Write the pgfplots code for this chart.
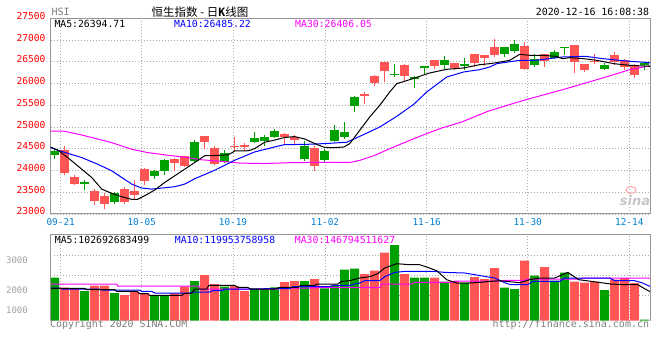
\documentclass[border=0pt]{standalone}
\usepackage{pgfplots}
\pgfplotsset{compat=1.18}
\usepackage{pgfplotstable}
\usepackage{fontspec}
\setmainfont{DejaVu Sans}
\newfontfamily\mono{DejaVu Sans Mono}
\newfontfamily\cjk{Noto Sans CJK SC}
\definecolor{cr}{RGB}{255,85,85}
\definecolor{cg}{RGB}{0,160,0}
\definecolor{gridc}{RGB}{170,170,170}
\definecolor{axc}{RGB}{150,150,150}
\definecolor{tickblue}{RGB}{0,128,210}
\definecolor{mag}{RGB}{255,0,255}
\definecolor{maten}{RGB}{0,0,255}
\definecolor{txtgray}{RGB}{125,125,125}
\definecolor{volgray}{RGB}{160,160,160}
\newcommand{\fs}[1]{\fontsize{#1}{#1}\selectfont}

% candles: x lo bodybottom bodytop hi
\pgfplotstableread{
x lo bb bt hi
1 23905 23935 24475 24555
2 23660 23700 23845 23905
4 23200 23300 23540 23585
5 23105 23225 23425 23475
7 23240 23275 23585 23610
8 23350 23440 23540 23790
9 23660 23760 24045 24060
12 23990 24180 24275 24280
13 24090 24105 24340 24345
15 24490 24645 24800 24805
16 24120 24145 24522 24572
18 24440 24530 24575 24782
19 24440 24545 24585 24630
23 24600 24760 24850 24870
24 24590 24698 24775 24820
26 23990 24095 24523 24560
31 25522 25712 25759 25805
32 25936 26015 26166 26204
33 26035 26295 26488 26495
35 26051 26172 26419 26457
38 26335 26410 26534 26540
40 26319 26360 26465 26470
42 26381 26480 26672 26680
43 26404 26588 26649 26655
44 26611 26660 26841 27033
47 26304 26335 26856 26956
49 26381 26525 26672 26680
52 26243 26500 26879 26885
53 26266 26300 26457 26460
54 26442 26495 26520 26672
56 26419 26500 26649 26726
57 26304 26380 26549 26570
58 26135 26207 26419 26450
}\redtab
\pgfplotstableread{
x lo bb bt hi
0 24275 24360 24455 24500
3 23545 23680 23745 23790
6 23220 23270 23475 23515
10 23812 23865 23980 24015
11 23890 23980 24245 24260
14 24210 24220 24650 24710
17 24205 24207 24395 24465
20 24660 24662 24748 24890
21 24565 24668 24775 24820
22 24755 24760 24912 24962
25 24225 24270 24575 24685
27 24195 24248 24460 24492
28 24665 24670 24935 25055
29 24731 24770 24895 25107
30 25345 25476 25700 25710
34 26150 26205 26230 26442
36 25905 26105 26160 26170
37 26204 26350 26395 26400
39 26327 26427 26550 26626
41 26319 26405 26458 26580
45 26611 26687 26830 26840
46 26703 26749 26898 27010
48 26381 26419 26570 26672
50 26572 26595 26735 26779
51 26649 26818 26845 26850
55 26304 26327 26420 26465
59 26319 26430 26470 26496
}\greentab
% volume (bar height on the chart's own scale)
\pgfplotstableread{
x v
1 33
2 32.5
4 35
5 35
7 25.7
8 29.3
9 27.7
12 27.3
13 34
15 45.7
16 36.7
18 34.7
19 29.7
23 38.7
24 39.7
26 41.7
31 46.7
32 50
33 68
35 46.7
38 43
40 39.5
42 43.7
43 41.5
44 52.7
47 60
49 53.7
52 39
53 38
54 39
56 41
57 42.7
58 37.7
}\volred
\pgfplotstableread{
x v
0 43
3 29.7
6 27.7
10 25
11 25.7
14 39.7
17 34
20 32.3
21 31
22 33.3
25 39.7
27 32.3
28 34.7
29 51
30 52
34 75.7
36 43
37 43
39 39
41 38.2
45 33
46 31.7
48 45
50 40
51 48
55 30.7
59 1
}\volgreen

\begin{document}
\begin{tikzpicture}
\path[use as bounding box] (0bp,0bp) rectangle (660bp,360bp);

% ---------- price panel ----------
\begin{axis}[
  at={(50.5bp,146bp)}, anchor=south west, scale only axis,
  width=599.5bp, height=195.7bp,
  xmin=-0.42, xmax=59.53, ymin=23000, ymax=27500,
  scaled y ticks=false,
  axis line style={draw=axc, line width=1bp},
  xtick={0.6,8.7,17.83,27.03,37.2,47.3,57.46},
  xticklabels={09-21,10-05,10-19,11-02,11-16,11-30,12-14},
  ytick={23000,23500,...,27500},
  yticklabels={23000,23500,24000,24500,25000,25500,26000,26500,27000,27500},
  xmajorgrids, ymajorgrids,
  major grid style={draw=gridc, line width=0.8bp, dash pattern=on 1bp off 2bp},
  major tick length=0pt,
  xticklabel style={font=\mono\fs{9.4bp}, text=tickblue, inner sep=0pt, yshift=-4.2bp},
  yticklabel style={font=\mono\fs{9.6bp}, text=red, inner sep=0pt, anchor=east, xshift=-4.8bp, yshift=2.5bp},
]
% wicks
\addplot[draw=none, mark=none, forget plot,
  error bars/.cd, y dir=both, y explicit, error mark=none,
  error bar style={draw=cr, line width=1bp, solid}]
  table[x=x, y=bb, y error plus expr=\thisrow{hi}-\thisrow{bb}, y error minus expr=\thisrow{bb}-\thisrow{lo}] {\redtab};
\addplot[draw=none, mark=none, forget plot,
  error bars/.cd, y dir=both, y explicit, error mark=none,
  error bar style={draw=cg, line width=1bp, solid}]
  table[x=x, y=bb, y error plus expr=\thisrow{hi}-\thisrow{bb}, y error minus expr=\thisrow{bb}-\thisrow{lo}] {\greentab};
% bodies
\addplot[draw=none, mark=none, forget plot,
  error bars/.cd, y dir=plus, y explicit, error mark=none,
  error bar style={draw=cr, line width=9bp, solid}]
  table[x=x, y=bb, y error plus expr=\thisrow{bt}-\thisrow{bb}] {\redtab};
\addplot[draw=none, mark=none, forget plot,
  error bars/.cd, y dir=plus, y explicit, error mark=none,
  error bar style={draw=cg, line width=9bp, solid}]
  table[x=x, y=bb, y error plus expr=\thisrow{bt}-\thisrow{bb}] {\greentab};
% MA30
\addplot[mag, line width=1bp, mark=none] coordinates {
(-0.42,24905)(0.9,24905)(2.7,24817)(5.7,24641)(7.7,24489)(9.3,24412)(11.3,24351)(13.3,24298)(14.5,24250)(16.5,24214)(18.5,24170)(21,24160)(23.5,24180)(27.5,24190)(29.5,24185)(30.5,24233)(32,24348)(33.5,24501)(35.5,24693)(37,24831)(38.7,24977)(40.7,25115)(43.3,25360)(46,25552)(47.5,25652)(50.8,25859)(54,26074)(56,26212)(57.5,26319)(59.53,26410)};
% MA10
\addplot[maten, line width=1bp, mark=none] coordinates {
(-0.42,24530)(0.3,24466)(1.3,24397)(2.7,24298)(4.3,24145)(5.7,23993)(6.7,23840)(7.7,23688)(8.7,23596)(9.7,23573)(10.7,23596)(12,23627)(13,23688)(14,23810)(16,24007)(18,24236)(20,24427)(22,24542)(23,24596)(25,24600)(27,24619)(29.2,24650)(30,24731)(32.5,25000)(34.2,25245)(35.9,25522)(37.2,25805)(39.2,26150)(40.9,26266)(42.5,26319)(43.5,26381)(44.2,26457)(46.5,26534)(48.1,26534)(50.8,26611)(53.1,26626)(54.8,26572)(57.5,26511)(59.53,26480)};
% MA5
\addplot[black, line width=1bp, mark=none] coordinates {
(-0.42,24540)(0.33,24466)(1.3,24298)(2.7,24031)(3.7,23840)(4.7,23573)(5.7,23474)(6.7,23398)(7.7,23337)(8.3,23337)(9,23421)(10,23550)(11,23726)(12,23878)(13,24031)(14,24184)(15,24340)(16,24345)(17.3,24360)(17.7,24404)(18,24450)(19.4,24455)(20,24504)(21,24650)(22,24700)(23,24760)(24,24780)(25,24725)(26,24620)(27,24530)(28,24527)(28.9,24540)(29.5,24617)(30.5,24923)(31.5,25230)(32.5,25498)(33.5,25805)(34.2,25997)(35.5,26089)(36.5,26166)(37.5,26243)(39.2,26327)(40.9,26358)(42.5,26434)(43.5,26457)(44.2,26480)(45.5,26534)(46.5,26672)(47.5,26649)(48.8,26649)(50.1,26626)(50.8,26572)(51.5,26595)(52.9,26572)(54.2,26534)(55.9,26457)(57.5,26419)(59.53,26396)};
\end{axis}

% ---------- volume panel ----------
\begin{axis}[
  at={(50.5bp,39.3bp)}, anchor=south west, scale only axis,
  width=599.5bp, height=86bp,
  xmin=-0.42, xmax=59.53, ymin=0, ymax=86,
  axis line style={draw=none}, clip=false,
  xtick={0.6,8.7,17.83,27.03,37.2,47.3,57.46}, xticklabels={},
  ytick={25.4,45.4,65.4}, yticklabels={},
  extra y ticks={10,30,60}, extra y tick labels={1000,2000,3000},
  extra y tick style={grid=none, yticklabel style={font=\mono\fs{9bp}, text=volgray, inner sep=0pt, anchor=east, xshift=-22.5bp}},
  xmajorgrids, ymajorgrids,
  major grid style={draw=gridc, line width=0.8bp, dash pattern=on 1bp off 2bp},
  major tick length=0pt,
]
\addplot[ybar, bar width=9bp, bar shift=0pt, fill=cr, draw=none, forget plot] table[x=x, y=v] {\volred};
\addplot[ybar, bar width=9bp, bar shift=0pt, fill=cg, draw=none, forget plot] table[x=x, y=v] {\volgreen};
\addplot[mag, line width=1bp, mark=none] coordinates {
(-0.42,36.7)(6.2,36.7)(6.3,34.7)(14.4,34.7)(14.5,31.7)(22.3,31.7)(22.5,32.7)(25.5,32.7)(26,33)(32.5,33)(32.7,36.7)(35.7,36.7)(36,38.3)(39.7,38.3)(40,39.7)(44.7,39.7)(45,40.3)(47,40.3)(47.3,41.7)(52.5,41.7)(53,42.7)(59.53,42.7)};
\addplot[maten, line width=1bp, mark=none] coordinates {
(-0.42,32.7)(0.5,32.7)(0.7,31.7)(4.5,31.7)(4.7,30.7)(8.5,30.7)(8.7,29.3)(9.7,29.3)(10,27.7)(13.5,27.7)(13.8,28.7)(15.5,28.7)(15.8,30)(16.7,30)(17,31.7)(20.5,31.7)(21,32)(23.5,32)(23.8,34)(27.5,34)(27.8,35.3)(29.5,35.3)(30,36.7)(30.5,37.7)(31,40)(32.5,40)(33,44)(34,48.3)(35,49.3)(38,49.3)(39,48.3)(41,47.7)(42,46)(43,44.3)(44,42.7)(45,38)(45.6,36)(47.3,36)(47.8,39.3)(50.5,39.3)(51,42.7)(55.5,42.7)(56,40)(58,40)(58.7,38)(59.53,34.3)};
\addplot[black, line width=1bp, mark=none] coordinates {
(-0.42,32.3)(3,32.3)(3.2,31)(6,31)(6.2,29.3)(8.2,29.3)(8.5,27)(9.3,27)(9.5,25.3)(12.7,25.3)(13,27.3)(13.7,27.3)(14,31.7)(15.2,31.7)(15.4,35.3)(18,35.3)(18.3,33.3)(19.3,33.3)(19.6,31.7)(22,31.7)(22.5,33.3)(24.3,33.3)(24.6,35.3)(26,35.3)(26.2,36.7)(28.3,36.7)(28.7,39.3)(29.5,40)(30.5,42.7)(31.5,44)(32.3,47)(33,52.7)(34.2,57)(35.5,56)(36.5,56)(37.2,53.7)(38.2,50)(39.2,41)(40.2,37.7)(41.5,37.7)(42.5,38.3)(43.5,39.3)(44.5,40)(45.5,39)(46.5,38)(47.5,41)(48.5,42.7)(50,42.7)(51.3,48.3)(52.4,41)(53.7,39.3)(55.6,36.7)(57,36)(58.3,36)(59.53,29)};
\draw[axc, line width=1bp] (rel axis cs:0,0) -- (rel axis cs:0,1) -- (rel axis cs:1,1) -- (rel axis cs:1,0);
\end{axis}

% ---------- texts ----------
\node[anchor=west, inner sep=0pt, text=txtgray, font=\mono\fs{10bp}] at (51.5bp,347.7bp) {HSI};
\node[inner sep=0pt, font=\cjk\fs{11.5bp}] at (200bp,348.3bp) {恒生指数 - 日{\mono\bfseries K}线图};
\node[anchor=east, inner sep=0pt, font=\mono\fs{9.9bp}] at (649.3bp,347.7bp) {2020-12-16 16:08:38};

\node[anchor=west, inner sep=0pt, font=\mono\fs{9.8bp}] at (54.3bp,336bp) {MA5:26394.71};
\node[anchor=west, inner sep=0pt, font=\mono\fs{9.8bp}, text=maten] at (174bp,336bp) {MA10:26485.22};
\node[anchor=west, inner sep=0pt, font=\mono\fs{9.8bp}, text=mag] at (295bp,336bp) {MA30:26406.05};

\node[anchor=west, inner sep=0pt, font=\mono\fs{9.8bp}] at (54.7bp,119.7bp) {MA5:102692683499};
\node[anchor=west, inner sep=0pt, font=\mono\fs{9.8bp}, text=maten] at (174.7bp,119.7bp) {MA10:119953758958};
\node[anchor=west, inner sep=0pt, font=\mono\fs{9.8bp}, text=mag] at (294.7bp,119.7bp) {MA30:146794511627};

\node[anchor=base west, inner sep=0pt, text=txtgray, font=\mono\fs{9.9bp}] at (50bp,32.6bp) {Copyright 2020 SINA.COM};
\node[anchor=base east, inner sep=0pt, text=txtgray, font=\mono\fs{10bp}] at (649.3bp,32.6bp) {http://finance.sina.com.cn};

\node[inner sep=0pt, text=gray!45, font=\bfseries\itshape\fs{13bp}] at (635bp,159bp) {sina};
\draw[red!30, line width=1.2bp] (631bp,170bp) ellipse (5bp and 3.5bp);
\end{tikzpicture}
\end{document}
